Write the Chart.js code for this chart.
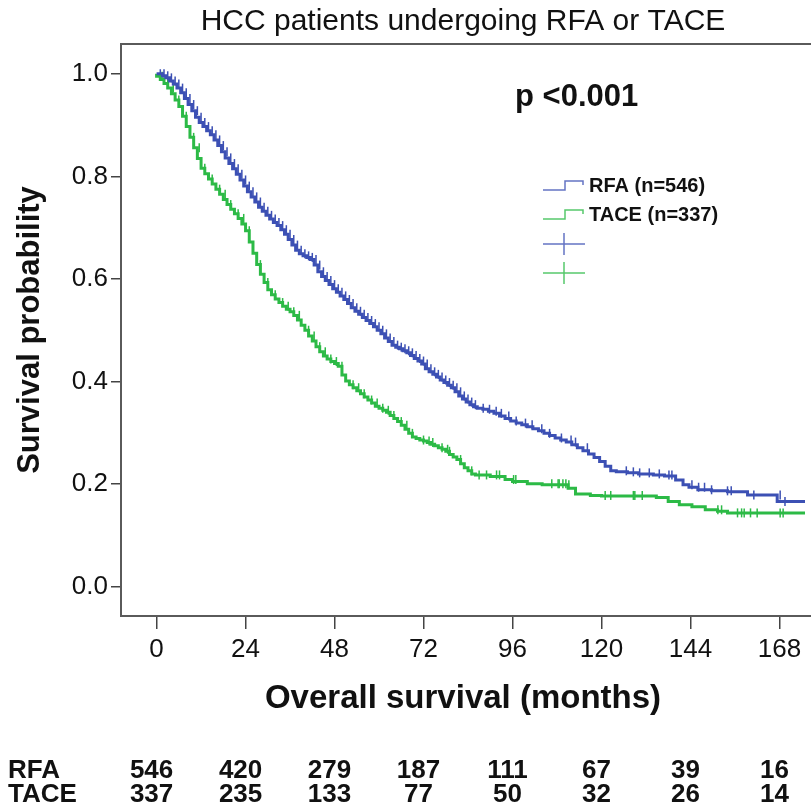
<!DOCTYPE html>
<html>
<head>
<meta charset="utf-8">
<script src="https://cdn.jsdelivr.net/npm/chart.js@4.4.0/dist/chart.umd.min.js"></script>
<style>
  html, body { margin: 0; padding: 0; background: #fff; }
  #km { display: block; }
</style>
</head>
<body>
<canvas id="km" width="811" height="807"></canvas>
<script>
// Kaplan-Meier estimates (months, survival)
const rfaMonths = [0, 1.6, 2.5, 3.5, 4.5, 5.5, 6.5, 7.5, 8.5, 9.5, 10.5, 11.5, 12.5, 13.5, 14.5, 15.5, 16.5, 17.5, 18.5, 19.5,
  20.5, 21.5, 22.5, 23.5, 24.5, 25.5, 26.5, 27.5, 28.5, 29.5, 30.5, 31.5, 32.5, 33.5, 34.5, 35.5, 36.5, 37.5, 38.5, 39.5,
  40.5, 41.5, 42.5, 43.5, 44.5, 45.5, 46.5, 47.5, 48.5, 49.5, 50.5, 51.5, 52.5, 53.5, 54.5, 55.5, 56.5, 57.5, 58.5, 59.5,
  60.5, 61.5, 62.5, 63.5, 64.5, 65.5, 66.5, 67.5, 68.5, 69.5, 70.5, 71.5, 72.5, 73.5, 74.5, 75.5, 76.5, 77.5, 78.5, 79.5,
  80.5, 81.5, 82.5, 83.5, 84.5, 85.5, 86.5, 88, 89.5, 91, 92.5, 94, 95.5, 97, 98.5, 100, 101.5, 103, 104.5, 106, 107.5,
  109, 110.5, 112, 113.5, 115, 116.5, 118, 119.5, 121, 122.5, 124, 127, 130, 134, 137, 140, 142, 143.6, 146, 149.7, 154,
  159.4, 160.7, 167.4, 169, 175];
const rfaSurvival = [1.0, 1.0, 0.996, 0.992, 0.986, 0.98, 0.972, 0.963, 0.952, 0.94, 0.928, 0.915, 0.905, 0.897, 0.889, 0.881, 0.871, 0.86, 0.848, 0.836,
  0.825, 0.815, 0.804, 0.793, 0.781, 0.77, 0.76, 0.75, 0.74, 0.732, 0.724, 0.717, 0.71, 0.704, 0.696, 0.687, 0.677, 0.666, 0.656, 0.649,
  0.645, 0.642, 0.638, 0.627, 0.614, 0.605, 0.597, 0.589, 0.581, 0.574, 0.567, 0.56, 0.552, 0.544, 0.537, 0.531, 0.525, 0.519, 0.513, 0.507,
  0.5, 0.493, 0.485, 0.478, 0.471, 0.467, 0.464, 0.46, 0.456, 0.451, 0.445, 0.44, 0.434, 0.425, 0.419, 0.414, 0.409, 0.403, 0.398, 0.393,
  0.388, 0.38, 0.372, 0.366, 0.36, 0.355, 0.351, 0.348, 0.346, 0.342, 0.338, 0.333, 0.328, 0.323, 0.319, 0.316, 0.312, 0.308, 0.304, 0.299, 0.295,
  0.29, 0.286, 0.282, 0.277, 0.271, 0.265, 0.259, 0.252, 0.244, 0.235, 0.226, 0.224, 0.222, 0.22, 0.218, 0.216, 0.208, 0.199, 0.194, 0.189, 0.187,
  0.185, 0.179, 0.179, 0.166, 0.166];

const taceMonths = [0, 1, 2, 3, 4, 5, 6, 7, 8, 9, 10, 11, 12, 13, 14, 15, 16, 17, 18, 19,
  20, 21, 22, 23, 24, 25, 26, 27, 28, 29, 30, 31, 32, 33, 34, 35, 36, 37, 38, 39,
  40, 41, 42, 43, 44, 45, 46, 47, 48, 49, 50, 51, 52, 53, 54, 55, 56, 57, 58, 59,
  60, 61, 62, 63, 64, 65, 66, 67, 68, 69, 70, 71, 72, 73, 74, 75, 76, 77, 78, 79,
  80, 81, 82, 83, 84, 85, 86, 87, 90, 94, 96, 100, 104, 111, 113, 117, 120, 134.8, 138, 141, 144.4, 148, 151.3, 154, 156, 175];
const taceSurvival = [1.0, 0.995, 0.989, 0.981, 0.972, 0.961, 0.949, 0.936, 0.917, 0.897, 0.876, 0.856, 0.835, 0.816, 0.805, 0.795, 0.785, 0.775, 0.765, 0.755,
  0.745, 0.736, 0.727, 0.718, 0.707, 0.694, 0.672, 0.65, 0.628, 0.609, 0.593, 0.579, 0.569, 0.561, 0.554, 0.547, 0.541, 0.536, 0.529, 0.52,
  0.51, 0.5, 0.489, 0.479, 0.468, 0.458, 0.45, 0.444, 0.439, 0.435, 0.43, 0.413, 0.401, 0.394, 0.388, 0.382, 0.376, 0.37, 0.364, 0.358,
  0.352, 0.348, 0.344, 0.34, 0.334, 0.328, 0.322, 0.315, 0.307, 0.299, 0.292, 0.289, 0.286, 0.284, 0.281, 0.278, 0.275, 0.271, 0.268, 0.264,
  0.258, 0.253, 0.248, 0.24, 0.232, 0.226, 0.22, 0.218, 0.218, 0.215, 0.209, 0.205, 0.201, 0.199, 0.192, 0.181, 0.178, 0.177, 0.174, 0.166, 0.16, 0.156, 0.15, 0.147, 0.144, 0.144];

// censored observations (months)
const rfaCensored = [1, 2, 3, 4, 5, 6, 7, 8, 9, 10, 11, 12, 13, 14, 15, 16, 17, 18, 19, 20, 21, 22, 23, 24, 25, 26, 27, 28, 29, 30,
  31, 32, 33, 34, 35, 36, 37, 38, 39, 40, 41, 42, 43, 44, 45, 46, 47, 48, 49, 50, 51, 52, 53, 54, 55, 56, 57, 58, 59, 60,
  61, 62, 63, 64, 65, 66, 67, 68, 69, 70, 71, 72, 73, 74, 75, 76, 77, 78, 79, 80, 81, 82, 83, 84, 85, 86,
  88.1, 89.8, 91.6, 93, 95, 97, 99.5, 101.3, 103.9, 106, 109.2, 111.8, 113, 116.2, 126.7, 128.6, 130.3, 132.9, 135.6, 138.2, 139,
  144.4, 146.2, 147.8, 149.7, 154, 155, 161.1, 168.2, 169.5];
const taceCensored = [1.5, 3, 4.5, 6, 8, 10, 11.5, 13, 15, 17, 18.5, 20, 22, 23.5, 25, 28, 30, 32, 34, 35.5, 37, 38.5, 41, 42.5, 44, 45.5,
  47, 48.5, 50, 53, 54.5, 56, 58, 59.5, 61, 62.5, 64, 66, 67.5, 69, 72, 73.5, 74.5, 77, 78.5, 79, 82, 85, 87, 89, 91.7, 92.5, 96.3, 96.9,
  106.6, 108.3, 108.6, 109.6, 110.4, 111.2, 121, 122.5, 128.6, 129, 131, 151.4, 152.4, 156.7, 157.8, 158.5, 160.2, 162, 168.2, 169];

// numbers at risk
const riskMonths = [0, 24, 48, 72, 96, 120, 144, 168];
const rfaAtRisk = [546, 420, 279, 187, 111, 67, 39, 16];
const taceAtRisk = [337, 235, 133, 77, 50, 32, 26, 14];

const yTickValues = [0, 0.2, 0.4, 0.6, 0.8, 1.0];

const BLUE = 'rgb(60, 80, 180)';
const GREEN = 'rgb(44, 186, 70)';
const FONT = "'Liberation Sans', Arial, sans-serif";

function toPoints(xs, ys) {
  return xs.map((x, i) => ({ x: x, y: ys[i] }));
}

// survival value of the step curve at time t (used to place censor ticks on it)
function stepAt(xs, ys, t) {
  let v = ys[0];
  for (let i = 0; i < xs.length; i++) {
    if (xs[i] <= t) v = ys[i];
  }
  return v;
}

function censorPoints(cens, xs, ys) {
  return cens.map(t => ({ x: t, y: stepAt(xs, ys, t) }));
}

const framePlugin = {
  id: 'frame',
  afterDraw(chart) {
    const { ctx, chartArea: a } = chart;
    ctx.save();
    ctx.strokeStyle = '#5a5a5a';
    ctx.lineWidth = 2;
    ctx.beginPath();
    ctx.moveTo(chart.width + 2, a.top);
    ctx.lineTo(a.left, a.top);
    ctx.lineTo(a.left, a.bottom);
    ctx.lineTo(chart.width + 2, a.bottom);
    ctx.stroke();
    ctx.restore();
  }
};

const annotationPlugin = {
  id: 'kmText',
  afterDraw(chart) {
    const ctx = chart.ctx;
    const xs = chart.scales.x;
    ctx.save();
    ctx.fillStyle = '#111';
    ctx.textBaseline = 'middle';

    ctx.font = 'bold 31px ' + FONT;
    ctx.textAlign = 'left';
    ctx.fillText('p <0.001', 515, 97);

    // legend
    const lx = 543;
    const rows = [
      { y: 186, color: BLUE, step: true, label: 'RFA (n=546)' },
      { y: 215, color: GREEN, step: true, label: 'TACE (n=337)' },
      { y: 244, color: BLUE, step: false },
      { y: 273, color: GREEN, step: false }
    ];
    ctx.lineWidth = 1.5;
    rows.forEach(r => {
      ctx.strokeStyle = r.color;
      ctx.globalAlpha = 0.8;
      ctx.beginPath();
      if (r.step) {
        ctx.moveTo(lx, r.y + 4);
        ctx.lineTo(lx + 22, r.y + 4);
        ctx.lineTo(lx + 22, r.y - 5);
        ctx.lineTo(lx + 40, r.y - 5);
        ctx.lineTo(lx + 40, r.y - 1);
      } else {
        ctx.moveTo(lx, r.y);
        ctx.lineTo(lx + 42, r.y);
        ctx.moveTo(lx + 21, r.y - 11);
        ctx.lineTo(lx + 21, r.y + 11);
      }
      ctx.stroke();
      ctx.globalAlpha = 1;
      if (r.label) {
        ctx.font = 'bold 20px ' + FONT;
        ctx.fillText(r.label, lx + 46, r.y);
      }
    });

    // numbers at risk
    ctx.font = 'bold 26px ' + FONT;
    ctx.textAlign = 'left';
    ctx.fillText('RFA', 8, 771);
    ctx.fillText('TACE', 8, 795);
    ctx.textAlign = 'center';
    riskMonths.forEach((m, i) => {
      const px = xs.getPixelForValue(m) - 5;
      ctx.fillText(String(rfaAtRisk[i]), px, 771);
      ctx.fillText(String(taceAtRisk[i]), px, 795);
    });
    ctx.restore();
  }
};

new Chart(document.getElementById('km'), {
  type: 'line',
  data: {
    datasets: [
      {
        label: 'RFA (n=546)',
        data: toPoints(rfaMonths, rfaSurvival),
        borderColor: BLUE,
        borderWidth: 3,
        stepped: 'after',
        pointRadius: 0,
        fill: false
      },
      {
        label: 'TACE (n=337)',
        data: toPoints(taceMonths, taceSurvival),
        borderColor: GREEN,
        borderWidth: 3,
        stepped: 'after',
        pointRadius: 0,
        fill: false
      },
      {
        label: 'RFA censored',
        data: censorPoints(rfaCensored, rfaMonths, rfaSurvival),
        showLine: false,
        pointStyle: 'line',
        rotation: 90,
        pointRadius: 4.5,
        pointBorderWidth: 1.5,
        pointBorderColor: BLUE
      },
      {
        label: 'TACE censored',
        data: censorPoints(taceCensored, taceMonths, taceSurvival),
        showLine: false,
        pointStyle: 'line',
        rotation: 90,
        pointRadius: 4.5,
        pointBorderWidth: 1.5,
        pointBorderColor: GREEN
      }
    ]
  },
  options: {
    responsive: false,
    animation: false,
    devicePixelRatio: 1,
    layout: { padding: 0 },
    scales: {
      x: {
        type: 'linear',
        min: -9.6,
        max: 174.9,
        afterFit: (scale) => { scale.height = 191; },
        afterBuildTicks: (scale) => { scale.ticks = riskMonths.map(v => ({ value: v })); },
        grid: { drawOnChartArea: false, drawTicks: true, tickLength: 13, color: '#444', lineWidth: 1.5 },
        border: { display: false },
        ticks: {
          padding: 5,
          color: '#111',
          font: { family: FONT, size: 26 },
          maxRotation: 0,
          autoSkip: false
        },
        title: {
          display: true,
          text: 'Overall survival (months)',
          color: '#111',
          font: { family: FONT, size: 33, weight: 'bold' },
          padding: { top: 0, bottom: 88 }
        }
      },
      y: {
        type: 'linear',
        min: -0.057,
        max: 1.058,
        afterFit: (scale) => { scale.width = 121; },
        afterBuildTicks: (scale) => { scale.ticks = yTickValues.map(v => ({ value: v })); },
        grid: { drawOnChartArea: false, drawTicks: true, tickLength: 10, color: '#444', lineWidth: 1.5 },
        border: { display: false },
        ticks: {
          padding: 3,
          color: '#111',
          font: { family: FONT, size: 26 },
          callback: (v) => Number(v).toFixed(1)
        },
        title: {
          display: true,
          text: 'Survival probability',
          color: '#111',
          font: { family: FONT, size: 31, weight: 'bold' },
          padding: { top: 12, bottom: 0 }
        }
      }
    },
    plugins: {
      legend: { display: false },
      tooltip: { enabled: false },
      title: {
        display: true,
        fullSize: false,
        text: 'HCC patients undergoing RFA or TACE',
        color: '#111',
        font: { family: FONT, size: 30, weight: 'normal' },
        padding: { top: 4, bottom: 4 }
      }
    }
  },
  plugins: [framePlugin, annotationPlugin]
});
</script>
</body>
</html>
